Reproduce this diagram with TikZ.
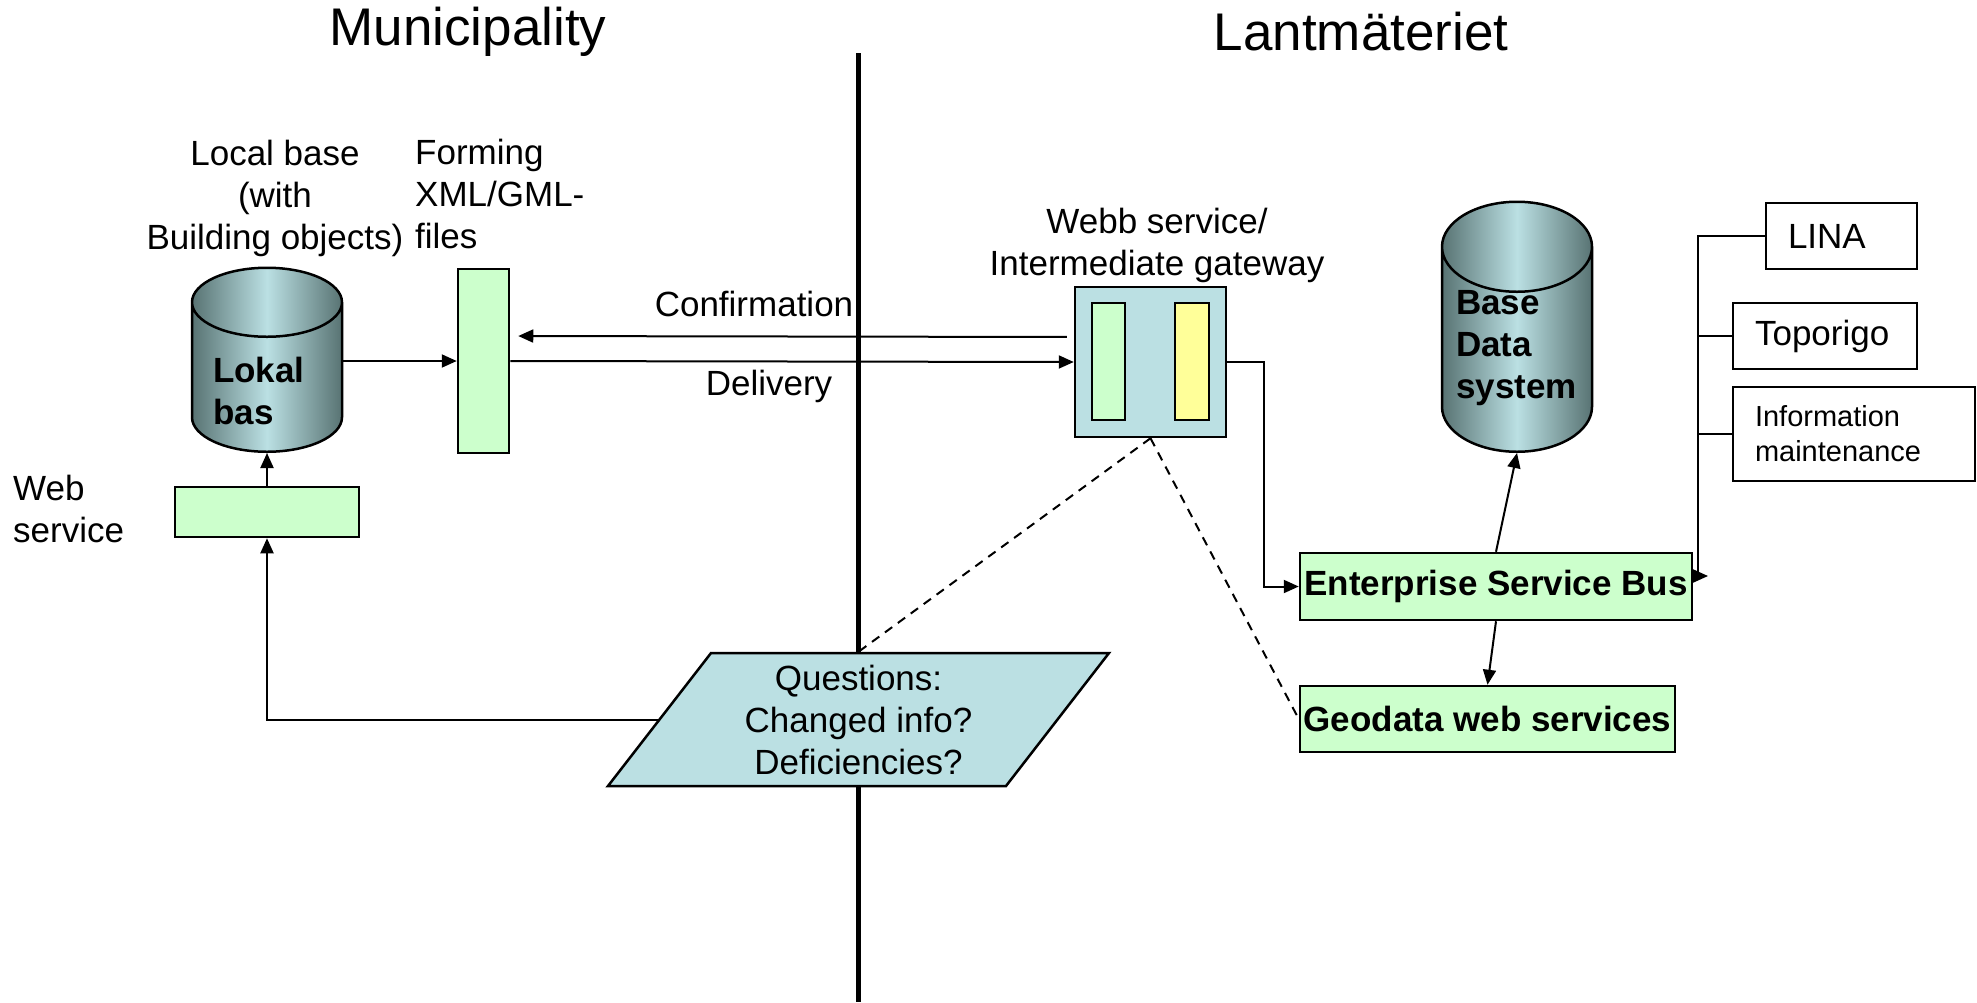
\documentclass[tikz,border=0pt]{standalone}
\usepackage{fontspec}
\setmainfont{Liberation Sans}
\usetikzlibrary{shapes.geometric,arrows.meta,calc}

\definecolor{ltgreen}{HTML}{CCFFCC}
\definecolor{ltyellow}{HTML}{FFFF99}
\definecolor{ltblue}{HTML}{BBE0E3}
\definecolor{cyldark}{HTML}{587373}

\tikzset{
  txt/.style={font=\fontsize{35}{42}\selectfont, inner sep=0pt},
  boldtxt/.style={font=\fontsize{35}{42}\selectfont\bfseries, inner sep=0pt},
  bigtxt/.style={font=\fontsize{53}{60}\selectfont, inner sep=0pt},
  smalltxt/.style={font=\fontsize{29}{35}\selectfont, inner sep=0pt},
  greenbox/.style={draw, line width=2.5pt, fill=ltgreen, inner sep=0pt},
  whitebox/.style={draw, line width=2.5pt, fill=white, inner xsep=22pt, inner ysep=0pt, align=left},
  database/.style={cylinder, shape border rotate=90, draw, line width=2.5pt, inner sep=0pt,
    text width=150pt, left color=cyldark, right color=cyldark, middle color=ltblue},
  conn/.style={line width=2pt, -{Triangle[length=15pt,width=13pt]}},
  link/.style={line width=2pt},
  hint/.style={line width=2pt, dash pattern=on 9pt off 7pt},
}

\begin{document}
\begin{tikzpicture}[x=1pt,y=-1pt]
\useasboundingbox (0,0) rectangle (1977,1002);

% the two sides
\node[bigtxt] (muni) at (468,32) {Municipality};
\node[bigtxt] (lant) at (1361,32) {Lantmäteriet};
\coordinate (divtop) at (858,53);
\coordinate (divbot) at (858,1002);
\draw[line width=5pt] (divtop) -- (divbot);

% municipality
\node[database, minimum height=184pt, aspect=0.46, anchor=south] (lokal) at (267,453) {};
\node[boldtxt, align=left, anchor=west] (lokaltxt) at (213,391) {Lokal\\bas};
\node[greenbox, minimum width=51pt, minimum height=184pt] (form) at (483.5,361) {};
\node[greenbox, minimum width=184pt, minimum height=50pt] (ws) at (267,512) {};
\node[txt, align=center] (lokallbl) at (275,198) {Local base\\(with\\Building objects)};
\node[txt, align=left, anchor=west] (formlbl) at (415,194) {Forming\\XML/GML-\\files};
\node[txt, align=left, anchor=west] (wslbl) at (13,509) {Web\\service};

\node[txt, trapezium, trapezium left angle=46.8, trapezium right angle=133.2,
  trapezium stretches body, draw, line width=2.5pt, fill=ltblue,
  minimum width=501pt, minimum height=133pt, align=center] (ques) at (858.5,719.5)
  {Questions:\\Changed info?\\Deficiencies?};

% lantmateriet
\node[draw, line width=2.5pt, fill=ltblue, minimum width=151pt, minimum height=150pt] (gw) at (1150.5,362) {};
\node[greenbox, minimum width=33pt, minimum height=117pt] (gwin) at (1108.5,361.5) {};
\node[greenbox, fill=ltyellow, minimum width=34pt, minimum height=117pt] (gwout) at (1192,361.5) {};
\node[txt, align=center] (gwlbl) at (1157,245) {Webb service/\\Intermediate gateway};

\node[database, minimum height=250pt, aspect=0.6, anchor=south] (base) at (1517,453) {};
\node[boldtxt, align=left, anchor=west] (basetxt) at (1456,348) {Base\\Data\\system};

\node[greenbox, boldtxt, minimum width=392pt, minimum height=67pt] (esb) at (1496,586.5) {Enterprise Service Bus};
\node[greenbox, boldtxt, minimum width=375pt, minimum height=66pt] (geo) at (1487.5,719) {Geodata web services};

\node[txt, whitebox, text width=107pt, minimum height=66pt] (lina) at (1841.5,236) {LINA};
\node[txt, whitebox, text width=140pt, minimum height=66pt] (topo) at (1825,336) {Toporigo};
\node[smalltxt, whitebox, text width=198pt, minimum height=94pt] (info) at (1854,434) {Information\\maintenance};

% connectors
\draw[conn] (lokal.east |- form.west) -- (form.west);
\draw[conn] (ws.north) -- (lokal.south);
\draw[conn] (ques.west) -| (ws.south);
\draw[conn] (form.east) -- (gw.west);
\draw[conn, shorten <=7pt, shorten >=8pt] ($(gw.west)+(0,-25)$) -- ($(form.east)+(0,-25)$);
\node[txt] (conflbl) at (754,304) {Confirmation};
\node[txt] (delivlbl) at (769,386) {Delivery};
\draw[conn] (gw.east) -- ++(37,0) |- (esb.west);
\draw[conn] (esb.north) -- (base.south);
\draw[conn] (esb.south) -- (geo.north);
\draw[hint] (gw.south) -- (ques.north);
\draw[hint] (gw.south) -- (geo.west);

% bus to the other systems
\coordinate (busbot) at (1698,576);
\draw[link] (lina.west) -| (busbot);
\draw[link] (topo.west) -- (topo.west -| busbot);
\draw[link] (info.west) -- (info.west -| busbot);
\draw[conn] (busbot) -- ++(10,0);
\end{tikzpicture}
\end{document}
